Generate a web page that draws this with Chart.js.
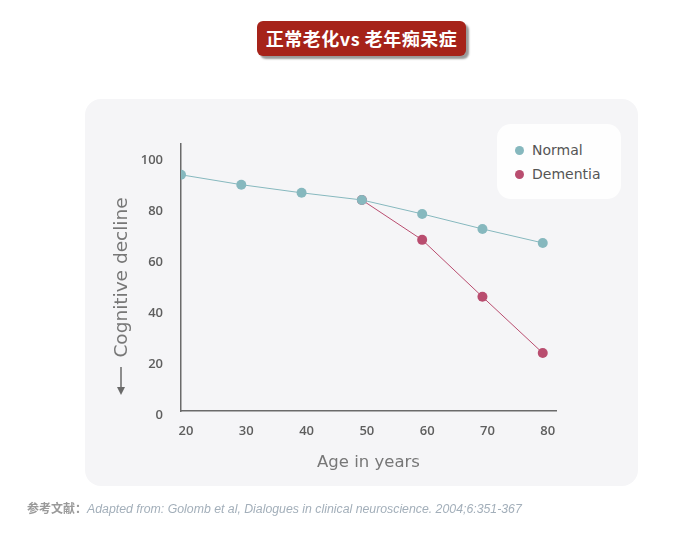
<!DOCTYPE html>
<html><head><meta charset="utf-8">
<script src="https://cdn.jsdelivr.net/npm/chart.js@4/dist/chart.umd.min.js"></script>
<style>
html,body{margin:0;padding:0;background:#fff;}
#wrap{position:relative;width:692px;height:535px;overflow:hidden;}
#title{position:absolute;left:257px;top:21px;width:209px;height:35px;background:#a6231a;border-radius:6px;box-shadow:3px 3px 2px #9a9a9a;color:#fff;font:bold 18px "Noto Sans CJK SC",sans-serif;text-align:center;line-height:35px;letter-spacing:0.5px;}
#panel{position:absolute;left:85px;top:99px;width:553px;height:387px;background:#f5f5f7;border-radius:16px;}
#legend{position:absolute;left:497px;top:124px;width:124px;height:75px;background:#fefefe;border-radius:14px;font:14px "DejaVu Sans",sans-serif;color:#555;}
.li{position:absolute;left:18px;height:20px;line-height:20px;}
.dot{display:inline-block;width:9px;height:9px;border-radius:50%;margin-right:8px;vertical-align:0px;}
#c{position:absolute;left:0;top:0;}
#foot{position:absolute;left:27px;top:499px;font:12.3px "Liberation Sans",sans-serif;color:#a3afba;white-space:nowrap;}
#foot b{font:bold 12px "Noto Sans CJK SC",sans-serif;color:#9a9a9a;}
#foot i{font-style:italic;}
</style></head>
<body><div id="wrap">
<div id="title">正常老化vs 老年痴呆症</div>
<div id="panel"></div>
<canvas id="c" width="692" height="535"></canvas>
<div id="legend"></div>
<div id="foot"><b>参考文献：</b><i>Adapted from: Golomb et al, Dialogues in clinical neuroscience. 2004;6:351-367</i></div>
</div>
<script>
const ages = [20, 30, 40, 50, 60, 70, 80];
const normalValues = [92.9, 89, 85.8, 83, 77.5, 71.6, 66.1];
const dementiaValues = [null, null, null, 83, 67.3, 44.9, 22.8];
const seriesNames = ['Normal', 'Dementia'];
const yTicks = [0, 20, 40, 60, 80, 100];
const xTicks = [20, 30, 40, 50, 60, 70, 80];
const colors = ['#86b8be', '#b94d6f'];

function pts(vals){ return ages.map((a,i)=>({x:a,y:vals[i]})).filter(p=>p.y!==null); }

const datasets = [normalValues, dementiaValues].map((v,i)=>({
  label: seriesNames[i], data: pts(v), borderColor: colors[i], backgroundColor: colors[i],
  pointBackgroundColor: colors[i], pointBorderWidth: 0, pointRadius: 5, borderWidth: 1, tension: 0
}));

const arrowPlugin = {
  id: 'downArrow',
  afterDraw(chart){
    const ctx = chart.ctx, x = 121, y1 = 367, y2 = 395;
    ctx.save();
    ctx.strokeStyle = '#6a6a6a'; ctx.fillStyle = '#6a6a6a'; ctx.lineWidth = 1.5;
    ctx.beginPath(); ctx.moveTo(x, y1); ctx.lineTo(x, y2 - 5); ctx.stroke();
    ctx.beginPath(); ctx.moveTo(x - 4, y2 - 8); ctx.lineTo(x + 4, y2 - 8); ctx.lineTo(x, y2); ctx.closePath(); ctx.fill();
    ctx.restore();
  }
};

const font = "'DejaVu Sans', sans-serif";
new Chart(document.getElementById('c'), {
  type: 'line',
  data: { datasets },
  plugins: [arrowPlugin],
  options: {
    responsive: false, animation: false, devicePixelRatio: 1,
    layout: { padding: { left: 111, right: 136, top: 144, bottom: 54 } },
    plugins: { legend: { display: false }, tooltip: { enabled: false } },
    scales: {
      x: {
        type: 'linear', min: 20, max: 82.2,
        afterBuildTicks: s => { s.ticks = xTicks.map(v=>({value:v})); },
        afterFit: s => { s.height = 70; },
        grid: { display: false, drawTicks: false },
        border: { display: true, color: '#6a6a6a', width: 1.5 },
        ticks: { padding: 12, labelOffset: 5, color: '#5e5e5e', font: { family: "'Open Sans', sans-serif", size: 13, weight: '600' } },
        title: { display: true, text: 'Age in years', color: '#777', font: { family: font, size: 16.5 }, padding: { top: 4, bottom: 8 } }
      },
      y: {
        min: 0, max: 105,
        afterBuildTicks: s => { s.ticks = yTicks.map(v=>({value:v})); },
        afterFit: s => { s.width = 70; },
        grid: { display: false, drawTicks: false },
        border: { display: true, color: '#6a6a6a', width: 1.5 },
        ticks: { padding: 18, labelOffset: 4, color: '#5e5e5e', font: { family: "'Open Sans', sans-serif", size: 13, weight: '600' } },
        title: { display: true, text: 'Cognitive decline', color: '#777', font: { family: font, size: 18.5 }, padding: 0 }
      }
    }
  }
});

const lg = document.getElementById('legend');
datasets.forEach((d,i)=>{
  const el = document.createElement('div');
  el.className='li'; el.style.top = (16 + i*24) + 'px';
  el.innerHTML = '<span class="dot" style="background:'+d.borderColor+'"></span>'+d.label;
  lg.appendChild(el);
});
</script>
</body></html>
